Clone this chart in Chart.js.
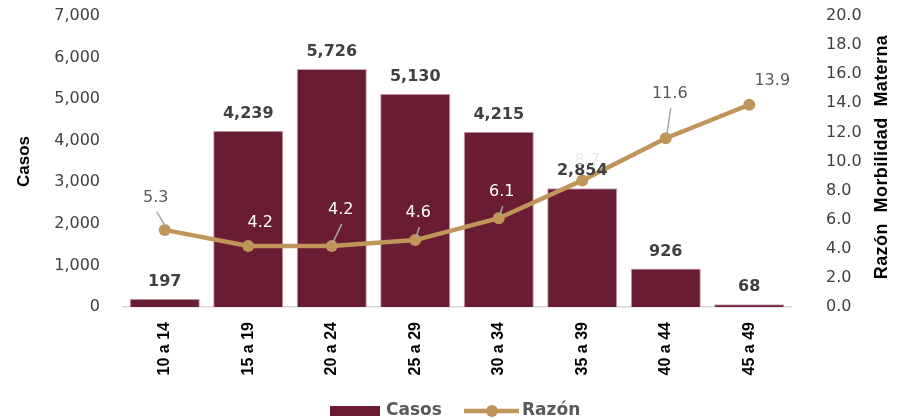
<html lang="es">
<head>
    <meta charset="UTF-8">
    <title>Casos y Razón de Morbilidad Materna por grupo de edad</title>
    <script src="https://cdn.jsdelivr.net/npm/chart.js"></script>
    <style>
        body { margin: 0; background: #fff; }
    </style>
</head>
<body>
    <canvas id="myChart" width="898" height="420"></canvas>

    <script>
        // Data
        const grupos = ['10 a 14', '15 a 19', '20 a 24', '25 a 29', '30 a 34', '35 a 39', '40 a 44', '45 a 49'];
        const casos = [197, 4239, 5726, 5130, 4215, 2854, 926, 68];
        const razon = [5.3, 4.2, 4.2, 4.6, 6.1, 8.7, 11.6, 13.9];

        const maroon = '#691C32';
        const gold = '#C0955A';
        const arial = '"Liberation Sans", Arial, sans-serif';
        const dejavu = '"DejaVu Sans", sans-serif';

        // label placement for the line values (dx, dy from the point), colour, leader line
        const razonLabelOffset = [[-9, -32], [12, -23], [9, -36], [3, -27], [3, -26], [5, -20], [4, -44], [23, -24]];
        const razonLabelColor = ['#595959', '#ffffff', '#ffffff', '#ffffff', '#ffffff', '#ececec', '#595959', '#595959'];
        const razonLeader = [true, false, true, true, true, false, true, false];

        const valueLabels = {
            id: 'valueLabels',
            afterDatasetsDraw(chart) {
                const ctx = chart.ctx;
                ctx.save();
                // bar values
                const barMeta = chart.getDatasetMeta(0);
                ctx.font = 'bold 16px ' + dejavu;
                ctx.fillStyle = '#404040';
                ctx.textAlign = 'center';
                ctx.textBaseline = 'alphabetic';
                barMeta.data.forEach(function (bar, i) {
                    ctx.fillText(casos[i].toLocaleString('en-US'), bar.x, bar.y - 13);
                });
                // line values
                const lineMeta = chart.getDatasetMeta(1);
                ctx.font = '16px ' + dejavu;
                ctx.textBaseline = 'middle';
                lineMeta.data.forEach(function (pt, i) {
                    const lx = pt.x + razonLabelOffset[i][0];
                    const ly = pt.y + razonLabelOffset[i][1];
                    if (razonLeader[i]) {
                        ctx.strokeStyle = '#a6a6a6';
                        ctx.lineWidth = 1.5;
                        ctx.beginPath();
                        ctx.moveTo(lx + 1, ly + 14);
                        ctx.lineTo(pt.x + 1, pt.y - 3);
                        ctx.stroke();
                    }
                    ctx.fillStyle = razonLabelColor[i];
                    ctx.fillText(razon[i].toFixed(1), lx, ly);
                });
                ctx.restore();
            },
            afterDraw(chart) {
                const ctx = chart.ctx;
                ctx.save();
                // right axis title (reads bottom to top)
                ctx.translate(882, 157);
                ctx.rotate(-Math.PI / 2);
                ctx.font = 'bold 18px ' + arial;
                ctx.letterSpacing = '0.4px';
                ctx.fillStyle = '#000';
                ctx.textAlign = 'center';
                ctx.textBaseline = 'middle';
                ctx.fillText('Razón  Morbilidad  Materna', 0, 0);
                ctx.restore();

                // legend
                ctx.save();
                const ly = 411;
                ctx.fillStyle = maroon;
                ctx.fillRect(330, 406, 50, 10);
                ctx.font = 'bold 17px ' + dejavu;
                ctx.fillStyle = '#595959';
                ctx.textBaseline = 'middle';
                ctx.textAlign = 'left';
                ctx.fillText('Casos', 386, ly);
                ctx.strokeStyle = gold;
                ctx.lineWidth = 4.5;
                ctx.beginPath();
                ctx.moveTo(464, ly);
                ctx.lineTo(519, ly);
                ctx.stroke();
                ctx.fillStyle = gold;
                ctx.beginPath();
                ctx.arc(492, ly, 6, 0, Math.PI * 2);
                ctx.fill();
                ctx.fillStyle = '#595959';
                ctx.fillText('Razón', 522, ly);
                ctx.restore();
            }
        };

        var config = {
            type: 'bar',
            data: {
                labels: grupos,
                datasets: [{
                    label: 'Casos',
                    data: casos,
                    backgroundColor: maroon,
                    borderColor: '#c9a6ae',
                    borderWidth: 1,
                    barPercentage: 0.84,
                    categoryPercentage: 1.0,
                    yAxisID: 'y',
                    order: 2
                },
                {
                    type: 'line',
                    label: 'Razón',
                    data: razon,
                    borderColor: gold,
                    backgroundColor: gold,
                    borderWidth: 4.5,
                    pointRadius: 6,
                    pointBackgroundColor: gold,
                    pointBorderWidth: 0,
                    tension: 0,
                    yAxisID: 'y1',
                    order: 1
                }]
            },
            options: {
                responsive: false,
                animation: false,
                layout: { padding: { top: 16, left: 0, right: 0, bottom: 0 } },
                plugins: {
                    legend: { display: false },
                    tooltip: { enabled: false }
                },
                scales: {
                    x: {
                        grid: { display: false, drawTicks: false },
                        border: { display: true, color: '#d9d9d9', width: 1.5 },
                        ticks: {
                            color: '#000',
                            font: { family: arial, size: 16, weight: 'bold' },
                            minRotation: 90,
                            maxRotation: 90,
                            padding: 15
                        },
                        afterFit: function (scale) { scale.height = 113; }
                    },
                    y: {
                        position: 'left',
                        min: 0,
                        max: 7000,
                        // tick marks are invisible; their length pushes the labels away from the bars
                        grid: { display: false, drawTicks: true, tickLength: 20 },
                        border: { display: false },
                        ticks: {
                            stepSize: 1000,
                            color: '#404040',
                            font: { family: dejavu, size: 16 },
                            padding: 3,
                            callback: function (v) { return v.toLocaleString('en-US'); }
                        },
                        title: {
                            display: true,
                            text: 'Casos',
                            color: '#000',
                            font: { family: arial, size: 17, weight: 'bold' },
                            padding: { top: 14, bottom: 0 }
                        },
                        afterFit: function (scale) { scale.width = 123; }
                    },
                    y1: {
                        position: 'right',
                        min: 0,
                        max: 20,
                        grid: { display: false, drawTicks: true, tickLength: 32 },
                        border: { display: false },
                        ticks: {
                            stepSize: 2,
                            color: '#404040',
                            font: { family: dejavu, size: 16 },
                            padding: 3,
                            callback: function (v) { return v.toFixed(1); }
                        },
                        afterFit: function (scale) { scale.width = 107; }
                    }
                }
            },
            plugins: [valueLabels]
        };

        var ctx = document.getElementById('myChart').getContext('2d');
        var myChart = new Chart(ctx, config);
    </script>
</body>
</html>
